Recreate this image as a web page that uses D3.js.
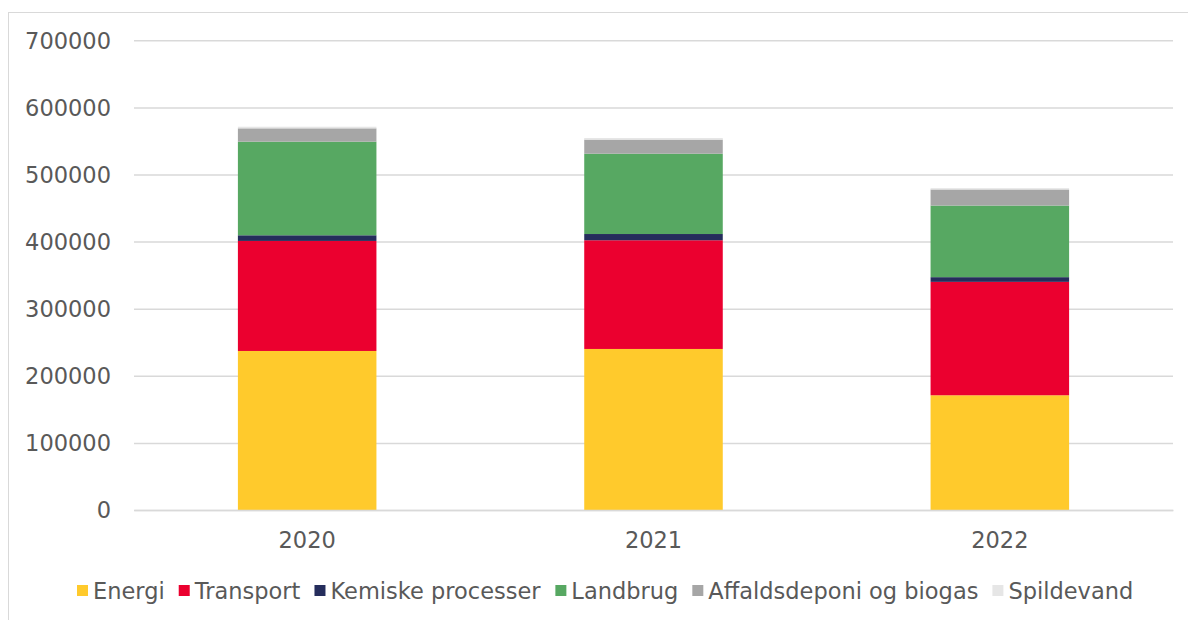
<!DOCTYPE html>
<html>
<head>
<meta charset="utf-8">
<script src="https://cdn.jsdelivr.net/npm/d3@7"></script>
<style>
  body { margin: 0; background: #fff; }
  svg text { font-family: "DejaVu Sans", Verdana, sans-serif; fill: #595959; }
</style>
</head>
<body>
<div id="chart"></div>
<script>
// data
const years = ["2020", "2021", "2022"];
const seriesNames = ["Energi", "Transport", "Kemiske processer", "Landbrug", "Affaldsdeponi og biogas", "Spildevand"];
const energi = [237000, 240000, 171000];
const transport = [164000, 162000, 169000];
const kemiske = [8400, 9300, 7000];
const landbrug = [139500, 119700, 106700];
const affald = [19900, 21000, 24000];
const spildevand = [2400, 2400, 2000];
const yTicks = [0, 100000, 200000, 300000, 400000, 500000, 600000, 700000];

const colors = ["#FFCA2C", "#EB002F", "#252D5C", "#57A862", "#A6A6A6", "#E6E6E6"];
const seriesValues = [energi, transport, kemiske, landbrug, affald, spildevand];

const W = 1188, H = 620;
const plot = {left: 134, right: 1173, top: 40.3, bottom: 510};
const fontSize = "22.5px";

const svg = d3.select("#chart").append("svg")
    .attr("width", W)
    .attr("height", H);

// outer frame
svg.append("rect")
    .attr("x", 8.5).attr("y", 12.5)
    .attr("width", W + 10).attr("height", H + 10)
    .attr("fill", "none")
    .attr("stroke", "#d9d9d9");

const table = years.map((y, i) => {
    const row = {year: y};
    seriesNames.forEach((s, j) => row[s] = seriesValues[j][i]);
    return row;
});

const stack = d3.stack().keys(seriesNames)(table);

const x = d3.scaleBand()
    .domain(years)
    .range([plot.left, plot.right])
    .padding(0);

const y = d3.scaleLinear()
    .domain([0, 700000])
    .range([plot.bottom, plot.top]);

const color = d3.scaleOrdinal().domain(seriesNames).range(colors);

// gridlines + y labels
const yAxis = d3.axisLeft(y)
    .tickValues(yTicks)
    .tickSize(-(plot.right - plot.left))
    .tickPadding(23)
    .tickFormat(d3.format("d"));

const gy = svg.append("g")
    .attr("transform", `translate(${plot.left},0)`)
    .call(yAxis);
gy.select(".domain").remove();
gy.selectAll(".tick line").attr("stroke", "#d9d9d9").attr("stroke-width", 1.5);
gy.selectAll(".tick text").style("font-size", fontSize).attr("dy", "0.35em");

// bars
const barW = x.bandwidth() * 0.4;
svg.append("g").selectAll("g")
    .data(stack)
    .join("g")
    .attr("fill", d => color(d.key))
    .selectAll("rect")
    .data(d => d)
    .join("rect")
    .attr("x", d => x(d.data.year) + (x.bandwidth() - barW) / 2)
    .attr("y", d => y(d[1]))
    .attr("width", barW)
    .attr("height", d => y(d[0]) - y(d[1]));

// x axis
const xAxis = d3.axisBottom(x).tickSize(0).tickPadding(22);
const gx = svg.append("g")
    .attr("transform", `translate(0,${plot.bottom})`)
    .call(xAxis);
gx.select(".domain").attr("stroke", "#d9d9d9").attr("stroke-width", 1.5);
gx.selectAll(".tick text").style("font-size", fontSize);

// legend
const legend = svg.append("g").attr("transform", "translate(77,591)");
let lx = 0;
const items = legend.selectAll("g")
    .data(seriesNames)
    .join("g");
items.append("rect")
    .attr("width", 11).attr("height", 11)
    .attr("y", -6)
    .attr("fill", d => color(d));
items.append("text")
    .attr("x", 16)
    .attr("dy", "0.35em")
    .style("font-size", fontSize)
    .text(d => d);
items.each(function() {
    const w = this.getBBox().width;
    d3.select(this).attr("transform", `translate(${lx},0)`);
    lx += w + 14;
});
</script>
</body>
</html>
